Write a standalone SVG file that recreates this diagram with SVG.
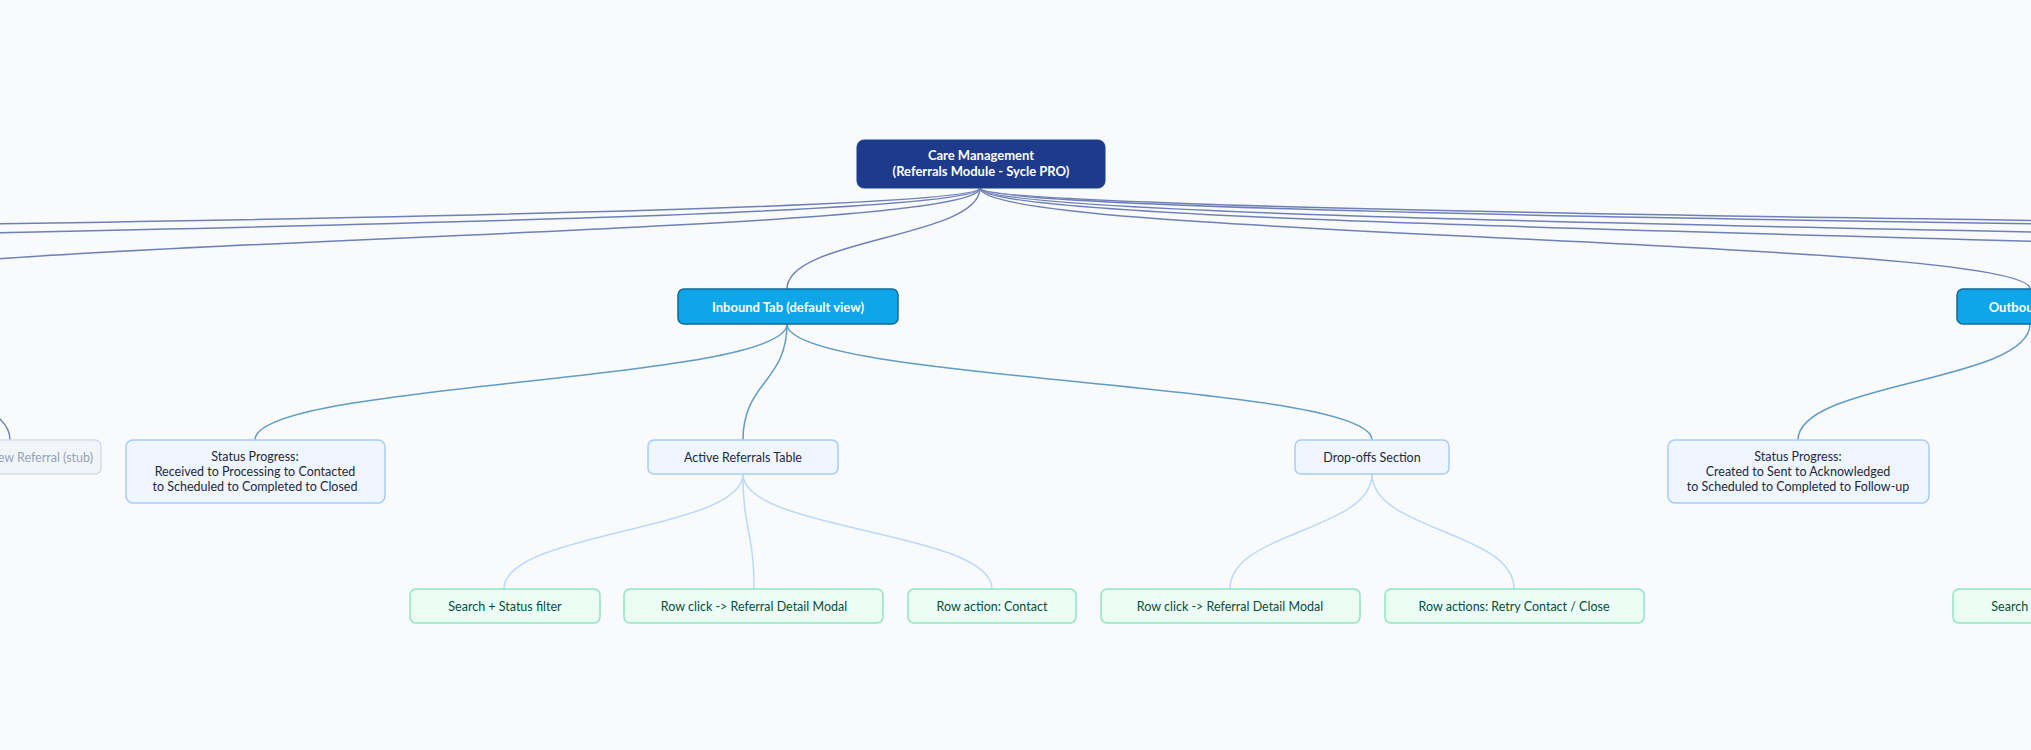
<svg xmlns="http://www.w3.org/2000/svg" width="2031" height="750" viewBox="0 0 2031 750">
<style>
text{font-family:Lato,"Noto Sans",sans-serif;font-size:12.5px;text-anchor:middle;dominant-baseline:central}
.e0{fill:none;stroke:#6f80b8;stroke-width:1.5}
.e1{fill:none;stroke:#5f9cc6;stroke-width:1.5}
.e2{fill:none;stroke:#bcd9fb;stroke-width:1.5}
.root rect{fill:#1e3a8a;stroke:#1e3a8a}
.root text{fill:#fff;font-weight:bold;font-size:13px}
.tab rect{fill:#0ea5e9;stroke:#0c6a9a;stroke-width:1.5}
.tab text{fill:#fff;font-weight:bold;font-size:13px}
.mid rect{fill:#eff6ff;stroke:#a6cdf8;stroke-width:1.5}
.mid text{fill:#1e293b}
.leaf rect{fill:#ecfdf5;stroke:#8ee6c2;stroke-width:1.5}
.leaf text{fill:#064e3b}
.stub rect{fill:#f1f5f9;stroke:#d5dbe6;stroke-width:1.5}
.stub text{fill:#94a3b8}
</style>
<rect width="2031" height="750" fill="#f8fafc"/>
<g id="connectors">
<path class="e0" d="M980,188 C980,238 -3075,238 -3075,289"/>
<path class="e0" d="M980,188 C980,238 -1497,238 -1497,289"/>
<path class="e0" d="M980,188 C980,238 -181,238 -181,289"/>
<path class="e0" d="M-181,324 C-181,382 10,382 10,440"/>
<path class="e0" d="M980,188 C980,238 787,238 787,289"/>
<path class="e0" d="M980,188 C980,238 6474,238 6474,289"/>
<path class="e0" d="M980,188 C980,238 5328,238 5328,289"/>
<path class="e0" d="M980,188 C980,238 3739,238 3739,289"/>
<path class="e0" d="M980,188 C980,238 2857,238 2857,289"/>
<path class="e0" d="M980,188 C980,238 2030,238 2030,289"/>
<path class="e1" d="M787,324 C787,382 255,382 255,440"/>
<path class="e1" d="M787,324 C787,382 743,382 743,440"/>
<path class="e1" d="M787,324 C787,382 1372,382 1372,440"/>
<path class="e1" d="M2030,324 C2030,382 1798,382 1798,440"/>
<path class="e2" d="M743,474 C743,531 504,531 504,589"/>
<path class="e2" d="M743,474 C743,531 754,531 754,589"/>
<path class="e2" d="M743,474 C743,531 992,531 992,589"/>
<path class="e2" d="M1372,474 C1372,531 1230,531 1230,589"/>
<path class="e2" d="M1372,474 C1372,531 1514,531 1514,589"/>
</g>
<g id="root" class="root"><rect x="857" y="140" width="248" height="48" rx="7"/><text x="981" y="155">Care Management</text><text x="981" y="171">(Referrals Module - Sycle PRO)</text></g>
<g id="inbound" class="tab"><rect x="678" y="289" width="220" height="35" rx="6"/><text x="788" y="306.5">Inbound Tab (default view)</text></g>
<g id="outbound" class="tab"><rect x="1957" y="289" width="146" height="35" rx="6"/><text x="2030" y="306.5">Outbound Tab</text></g>
<g id="stub" class="stub"><rect x="-120" y="440" width="221" height="34" rx="6"/><text x="93" y="457" style="text-anchor:end">Create New Referral (stub)</text></g>
<g id="in-status" class="mid"><rect x="126" y="440" width="259" height="63" rx="7"/><text x="255" y="456">Status Progress:</text><text x="255" y="471">Received to Processing to Contacted</text><text x="255" y="486">to Scheduled to Completed to Closed</text></g>
<g id="active" class="mid"><rect x="648" y="440" width="190" height="34" rx="6"/><text x="743" y="457">Active Referrals Table</text></g>
<g id="dropoffs" class="mid"><rect x="1295" y="440" width="154" height="34" rx="6"/><text x="1372" y="457">Drop-offs Section</text></g>
<g id="out-status" class="mid"><rect x="1668" y="440" width="261" height="63" rx="7"/><text x="1798" y="456">Status Progress:</text><text x="1798" y="471">Created to Sent to Acknowledged</text><text x="1798" y="486">to Scheduled to Completed to Follow-up</text></g>
<g id="l1" class="leaf"><rect x="410" y="589" width="190" height="34" rx="6"/><text x="505" y="606">Search + Status filter</text></g>
<g id="l2" class="leaf"><rect x="624" y="589" width="259" height="34" rx="6"/><text x="754" y="606">Row click -&gt; Referral Detail Modal</text></g>
<g id="l3" class="leaf"><rect x="908" y="589" width="168" height="34" rx="6"/><text x="992" y="606">Row action: Contact</text></g>
<g id="l4" class="leaf"><rect x="1101" y="589" width="259" height="34" rx="6"/><text x="1230" y="606">Row click -&gt; Referral Detail Modal</text></g>
<g id="l5" class="leaf"><rect x="1385" y="589" width="259" height="34" rx="6"/><text x="1514" y="606">Row actions: Retry Contact / Close</text></g>
<g id="l6" class="leaf"><rect x="1953" y="589" width="190" height="34" rx="6"/><text x="2048" y="606">Search + Status filter</text></g>
</svg>
